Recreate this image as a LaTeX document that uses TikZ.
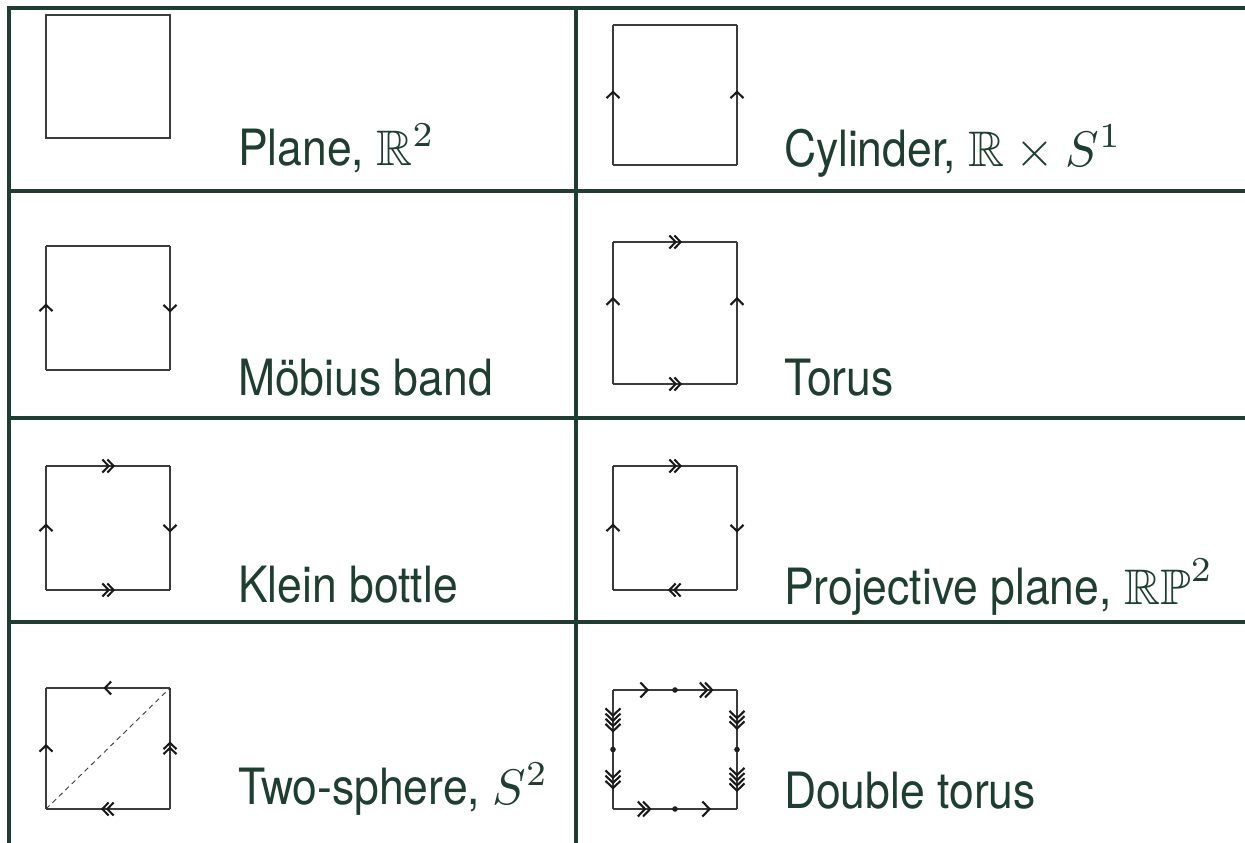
\documentclass[tikz,border=0pt]{standalone}
\usepackage{amssymb}
\usepackage[no-math]{fontspec}
\setmainfont{TeX Gyre Heros}[FakeStretch=0.89]
\usetikzlibrary{decorations.markings}

\definecolor{rule}{HTML}{1F3D30}
\definecolor{edgecol}{HTML}{3C3C3C}

\tikzset{
  gridline/.style={draw=rule, line width=3.5pt},
  edge/.style={draw=edgecol, line width=1.2pt},
  chev/.style={draw=black!90, line width=2.1pt, line join=miter},
  diag/.style={draw=edgecol, line width=0.9pt, dash pattern=on 5pt off 4pt},
  label/.style={anchor=base west, inner sep=0pt, text=rule, scale=5,
    font=\fontsize{10}{12}\selectfont},
  chevlen/.store in=\chevlen, chevlen=3.2pt,
  chevhw/.store in=\chevhw, chevhw=6.5pt,
  chevgap/.store in=\chevgap, chevgap=5pt,
  bigchev/.style={chevlen=3.6pt, chevhw=7.5pt, chevgap=5.2pt},
  % n open chevrons centred at a fraction of the edge, pointing along it
  mk/.style 2 args={postaction={decorate,decoration={markings,
    mark=at position #1 with {
      \foreach \k in {1,...,#2}{
        \draw[chev] ({(\k-(#2+1)/2)*\chevgap-\chevlen},\chevhw)
          -- ({(\k-(#2+1)/2)*\chevgap+\chevlen},0pt)
          -- ({(\k-(#2+1)/2)*\chevgap-\chevlen},-\chevhw);}}}}},
  vdot/.style={postaction={decorate,decoration={markings,
    mark=at position #1 with {\fill[black!88] (0,0) circle (2.8pt);}}}}
}

% corners of a box of width 124 and height #4 with top-left corner at (#2,#3)
\newcommand\boxcorners[4]{%
  \coordinate (#1-nw) at (#2,#3);
  \coordinate (#1-ne) at (#2+124,#3);
  \coordinate (#1-sw) at (#2,#3+#4);
  \coordinate (#1-se) at (#2+124,#3+#4);}

\begin{document}
\begin{tikzpicture}[x=1pt,y=-1pt]
\useasboundingbox (0,0) rectangle (1245,843);

% table rules
\draw[gridline] (9,8) -- (1245,8);
\draw[gridline] (9,191) -- (1245,191);
\draw[gridline] (9,418) -- (1245,418);
\draw[gridline] (9,622) -- (1245,622);
\draw[gridline] (9,6.25) -- (9,843);
\draw[gridline] (576,6.25) -- (576,843);

% plane
\boxcorners{pl}{46}{15}{123}
\draw[edge] (pl-nw) -- (pl-ne) -- (pl-se) -- (pl-sw) -- cycle;
\node[label] (plT) at (237,165) {Plane, $\mathbb{R}^2$};

% cylinder
\boxcorners{cy}{613}{25}{140}
\draw[edge] (cy-nw) -- (cy-ne);
\draw[edge] (cy-sw) -- (cy-se);
\draw[edge, mk={0.5}{1}] (cy-sw) -- (cy-nw);
\draw[edge, mk={0.5}{1}] (cy-se) -- (cy-ne);
\node[label] (cyT) at (783,166) {Cylinder, $\mathbb{R}\times S^1$};

% Moebius band
\boxcorners{mb}{46}{246}{124}
\draw[edge] (mb-nw) -- (mb-ne);
\draw[edge] (mb-sw) -- (mb-se);
\draw[edge, mk={0.5}{1}] (mb-sw) -- (mb-nw);
\draw[edge, mk={0.5}{1}] (mb-ne) -- (mb-se);
\node[label] (mbT) at (237,395) {Möbius band};

% torus
\boxcorners{to}{613}{242}{142}
\draw[edge, mk={0.5}{2}] (to-nw) -- (to-ne);
\draw[edge, mk={0.5}{2}] (to-sw) -- (to-se);
\draw[edge, mk={0.58}{1}] (to-sw) -- (to-nw);
\draw[edge, mk={0.58}{1}] (to-se) -- (to-ne);
\node[label] (toT) at (783,395) {Torus};

% Klein bottle
\boxcorners{kb}{46}{466}{124}
\draw[edge, mk={0.5}{2}] (kb-nw) -- (kb-ne);
\draw[edge, mk={0.5}{2}] (kb-sw) -- (kb-se);
\draw[edge, mk={0.5}{1}] (kb-sw) -- (kb-nw);
\draw[edge, mk={0.5}{1}] (kb-ne) -- (kb-se);
\node[label] (kbT) at (237,602) {Klein bottle};

% projective plane
\boxcorners{pp}{613}{466}{124}
\draw[edge, mk={0.5}{2}] (pp-nw) -- (pp-ne);
\draw[edge, mk={0.5}{2}] (pp-se) -- (pp-sw);
\draw[edge, mk={0.5}{1}] (pp-sw) -- (pp-nw);
\draw[edge, mk={0.5}{1}] (pp-ne) -- (pp-se);
\node[label] (ppT) at (783,604) {Projective plane, $\mathbb{RP}^2$};

% two-sphere
\boxcorners{ts}{46}{688}{121}
\draw[edge, mk={0.5}{1}] (ts-ne) -- (ts-nw);
\draw[edge, mk={0.5}{2}] (ts-se) -- (ts-sw);
\draw[edge, mk={0.5}{1}] (ts-sw) -- (ts-nw);
\draw[edge, mk={0.5}{2}] (ts-se) -- (ts-ne);
\draw[diag] (ts-sw) -- (ts-ne);
\node[label] (tsT) at (237,804) {Two-sphere, $S^2$};

% double torus
\boxcorners{dt}{613}{690}{119}
\begin{scope}[bigchev]
\draw[edge, mk={0.25}{1}, mk={0.75}{2}, vdot=0.5] (dt-nw) -- (dt-ne);
\draw[edge, mk={0.25}{3}, mk={0.75}{4}, vdot=0.5] (dt-ne) -- (dt-se);
\draw[edge, mk={0.25}{2}, mk={0.75}{1}, vdot=0.5] (dt-sw) -- (dt-se);
\draw[edge, mk={0.25}{4}, mk={0.75}{3}, vdot=0.5] (dt-nw) -- (dt-sw);
\end{scope}
\node[label] (dtT) at (783,808) {Double torus};
\end{tikzpicture}
\end{document}
